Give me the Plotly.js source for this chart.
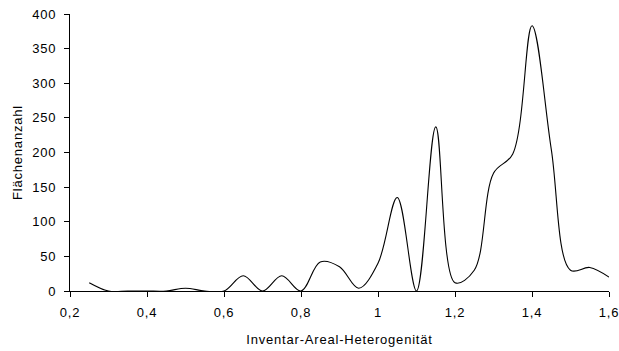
<!DOCTYPE html>
<html><head><meta charset="utf-8">
<script src="https://cdn.plot.ly/plotly-3.0.1.min.js"></script>
<style>html,body{margin:0;padding:0;background:#fff}
.main-svg text{letter-spacing:0.8px}</style>
</head><body>
<div id="chart" style="width:619px;height:351px"></div>
<script>
const xValues = [0.25,0.3,0.35,0.4,0.45,0.5,0.55,0.6,0.65,0.7,0.75,0.8,0.85,0.9,0.95,1.0,1.05,1.1,1.15,1.2,1.25,1.3,1.35,1.4,1.45,1.5,1.55,1.6];
const flaechen = [12,0,0,0,0,4,0,0,22,0,22,0,42,35,4,40,135,0,237,12,30,170,198,383,205,30,34,20];
const xTicks = [0.2,0.4,0.6,0.8,1.0,1.2,1.4,1.6];
const xTickText = ["0,2","0,4","0,6","0,8","1","1,2","1,4","1,6"];
const yTicks = [0,50,100,150,200,250,300,350,400];

Plotly.newPlot('chart', [{
  x: xValues, y: flaechen, type: 'scatter', mode: 'lines',
  line: {color: '#000', width: 1.1, shape: 'spline', smoothing: 1},
  hoverinfo: 'none'
}], {
  width: 619, height: 351,
  margin: {l: 70, r: 10, t: 14, b: 60},
  paper_bgcolor: '#fff', plot_bgcolor: '#fff',
  font: {family: 'Liberation Sans, Arial, sans-serif', size: 13, color: '#000'},
  showlegend: false,
  xaxis: {
    range: [0.2, 1.6], tickvals: xTicks, ticktext: xTickText,
    showgrid: false, zeroline: false, showline: true, linecolor: '#000', linewidth: 1,
    ticks: 'outside', ticklen: 5, tickcolor: '#000', ticklabelstandoff: 4,
    title: {text: 'Inventar-Areal-Heterogenität', font: {size: 13}, standoff: 16}
  },
  yaxis: {
    range: [0, 400], tickvals: yTicks,
    showgrid: false, zeroline: false, showline: true, linecolor: '#000', linewidth: 1,
    ticks: 'outside', ticklen: 5, tickcolor: '#000', ticklabelstandoff: 5,
    title: {text: 'Flächenanzahl', font: {size: 13}, standoff: 9}
  }
}, {staticPlot: true});
</script>
</body></html>
